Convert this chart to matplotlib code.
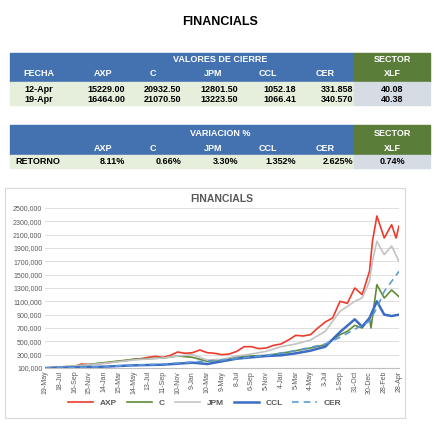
import matplotlib
matplotlib.use("Agg")
import matplotlib.pyplot as plt
from matplotlib.patches import Rectangle

plt.rcParams['font.family'] = ['Liberation Sans', 'DejaVu Sans']

tickers = ['AXP', 'C', 'JPM', 'CCL', 'CER']
dates = ['12-Apr', '19-Apr']
close_12 = ['15229.00', '20932.50', '12801.50', '1052.18', '331.858']
close_19 = ['16464.00', '21070.50', '13223.50', '1066.41', '340.570']
xlf_close = ['40.08', '40.38']
returns = ['8.11%', '0.66%', '3.30%', '1.352%', '2.625%']
xlf_return = '0.74%'

x_labels = ['19-May', '18-Jul', '16-Sep', '15-Nov', '14-Jan', '15-Mar', '14-May', '13-Jul',
            '11-Sep', '10-Nov', '9-Jan', '10-Mar', '9-May', '8-Jul', '6-Sep', '5-Nov',
            '4-Jan', '5-Mar', '4-May', '3-Jul', '1-Sep', '31-Oct', '30-Dec', '28-Feb', '28-Apr']

# values in thousands, x in label-interval units
axp_x = [0, .5, 1, 1.5, 2, 2.5, 3, 3.5, 4, 4.5, 5, 5.5, 6, 6.5, 7, 7.5, 8, 8.5, 9, 9.5, 10, 10.5,
         11, 11.5, 12, 12.5, 13, 13.5, 14, 14.5, 15, 15.5, 16, 16.5, 17, 17.5, 18, 18.5, 19, 19.5,
         20, 20.5, 21, 21.5, 22, 22.2, 22.5, 23, 23.5, 23.8, 24]
axp_y = [100, 105, 110, 115, 125, 160, 150, 165, 170, 185, 200, 210, 230, 240, 260, 275, 260, 290,
         340, 320, 330, 370, 330, 320, 300, 310, 350, 420, 420, 390, 400, 440, 460, 520, 590, 580,
         600, 700, 790, 850, 1100, 1070, 1300, 1200, 1550, 2000, 2380, 2050, 2250, 2050, 2230]
jpm_x = [0, 2, 4, 6, 8, 9, 10, 11, 12, 13, 14, 15, 16, 17, 18, 19, 19.5, 20, 21, 21.5, 22, 22.2,
         22.5, 23, 23.5, 24]
jpm_y = [100, 130, 170, 220, 250, 280, 300, 220, 230, 280, 310, 350, 420, 460, 520, 650, 800, 950,
         1100, 1150, 1400, 1700, 2000, 1800, 1930, 1700]
c_x = [0, 2, 4, 6, 8, 9, 10, 11, 12, 13, 14, 15, 16, 17, 18, 19, 20, 20.5, 21, 21.5, 22, 22.1,
       22.5, 23, 23.5, 24]
c_y = [100, 130, 180, 230, 250, 280, 260, 200, 220, 270, 280, 290, 320, 360, 400, 450, 600, 650,
       740, 700, 850, 700, 1350, 1150, 1270, 1170]
ccl_x = [0, 2, 4, 6, 8, 10, 11, 12, 13, 14, 15, 16, 17, 18, 19, 20, 21, 21.5, 22, 22.5, 23, 23.5, 24]
ccl_y = [100, 110, 120, 140, 150, 180, 160, 200, 240, 260, 280, 290, 320, 360, 420, 640, 830, 720,
         850, 1100, 900, 880, 900]
cer_x = [0, 4, 8, 12, 15, 17, 19, 20, 21, 22, 22.5, 23, 24]
cer_y = [100, 120, 160, 220, 290, 360, 460, 560, 680, 800, 1000, 1250, 1550]

W, H = 440, 430
fig = plt.figure(figsize=(4.4, 4.3), dpi=100)
blue, green, lgreen, grey = '#4472b0', '#5a7d3a', '#e6efdc', '#d6dce4'

def rect(x0, y0, x1, y1, color):
    fig.patches.append(Rectangle((x0 / W, 1 - y1 / H), (x1 - x0) / W, (y1 - y0) / H,
                                 transform=fig.transFigure, color=color, zorder=0))

def txt(x, y, s, color='black', ha='center', size=6.5):
    fig.text(x / W, 1 - y / H, s, color=color, ha=ha, va='center', size=size, weight='bold')

txt(220, 22, 'FINANCIALS', size=9)
cols = [39, 103, 153, 213, 268, 325]
rights = [125, 181, 238, 296, 353]

# table 1
rect(10, 53, 354, 82, blue)
rect(354, 53, 430, 82, green)
rect(10, 82, 354, 105, lgreen)
rect(354, 82, 430, 105, grey)
txt(220, 60, 'VALORES DE CIERRE', 'white')
txt(392, 60, 'SECTOR', 'white')
for cx, s in zip(cols, ['FECHA'] + tickers):
    txt(cx, 74, s, 'white')
txt(392, 74, 'XLF', 'white')
for ry, d, row, xv in zip([89, 100], dates, [close_12, close_19], xlf_close):
    txt(cols[0], ry, d)
    for rx, v in zip(rights, row):
        txt(rx, ry, v, ha='right')
    txt(392, ry, xv)

# table 2
rect(10, 125, 354, 155, blue)
rect(354, 125, 430, 155, green)
rect(10, 155, 354, 168, lgreen)
rect(354, 155, 430, 168, grey)
txt(220, 133, 'VARIACION %', 'white')
txt(392, 133, 'SECTOR', 'white')
for cx, s in zip(cols[1:], tickers):
    txt(cx, 148, s, 'white')
txt(392, 148, 'XLF', 'white')
txt(38, 162, 'RETORNO')
for rx, v in zip(rights, returns):
    txt(rx, 162, v, ha='right')
txt(392, 162, xlf_return)

# chart frame
fig.patches.append(Rectangle((5 / W, 1 - 418 / H), 400 / W, 230 / H, transform=fig.transFigure,
                             fill=False, edgecolor='#d9d9d9', lw=0.8))
ax = fig.add_axes([45 / W, 1 - 368 / H, 354 / W, 160 / H])
ax.plot(axp_x, axp_y, color='#ee3b2c', lw=1.2, label='AXP')
ax.plot(c_x, c_y, color='#5f8c3b', lw=1.2, label='C')
ax.plot(jpm_x, jpm_y, color='#c3c3c3', lw=1.2, label='JPM')
ax.plot(ccl_x, ccl_y, color='#3c6cc4', lw=1.8, label='CCL')
ax.plot(cer_x, cer_y, color='#5b9bd5', lw=1.2, ls=(0, (4, 3)), label='CER')
ax.set_xlim(0, 24)
ax.set_ylim(100, 2500)
ax.set_yticks(range(100, 2501, 200))
ax.set_yticklabels([f'{v},000' for v in range(100, 2501, 200)], size=5, color='#595959')
ax.set_xticks(range(len(x_labels)))
ax.set_xticklabels(x_labels, rotation=90, size=5, color='#595959')
ax.grid(axis='y', color='#d9d9d9', lw=0.6)
ax.set_axisbelow(True)
for s in ['top', 'right', 'left']:
    ax.spines[s].set_visible(False)
ax.spines['bottom'].set_color('#bfbfbf')
ax.tick_params(length=0, pad=2)
ax.set_title('FINANCIALS', size=7.5, weight='bold', color='#595959', pad=4)
leg = fig.legend(loc='center', bbox_to_anchor=(205 / W, 1 - 403 / H), ncol=5, frameon=False,
                 prop={'size': 6, 'weight': 'bold'}, handlelength=3, columnspacing=1.2)
for t in leg.get_texts():
    t.set_color('#595959')

fig.savefig('out.png', dpi=100)
